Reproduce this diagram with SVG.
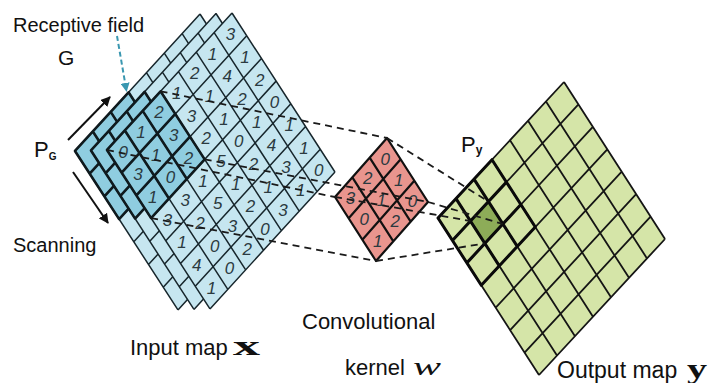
<svg xmlns="http://www.w3.org/2000/svg" xmlns:xlink="http://www.w3.org/1999/xlink" width="712" height="383" viewBox="0 0 712 383">
<style>
.cell{fill:#c6e6f0;stroke:none}
.rf{fill:#8fcde0;stroke:none}
.grid{fill:none;stroke:#17262c;stroke-width:1.5;stroke-linejoin:round}
.rfgrid{fill:none;stroke:#0f1a1e;stroke-width:2.6;stroke-linejoin:round}
.num{font-family:"Liberation Sans",Arial,sans-serif;font-style:italic;font-size:17px;fill:#2b3a40;text-anchor:middle}
.lbl{font-family:"Liberation Sans",Arial,sans-serif;fill:#111}
.dash{fill:none;stroke:#1a1a1a;stroke-width:1.8;stroke-dasharray:7 5}
.kcell{fill:#e9958e}
.kgrid{fill:none;stroke:#111;stroke-width:2.2;stroke-linejoin:round}
.ocell{fill:#d5e5a8}
.ogrid{fill:none;stroke:#151515;stroke-width:1.8;stroke-linejoin:round}
.orf{fill:none;stroke:#0a0a0a;stroke-width:3;stroke-linejoin:round}
</style>
<defs>
<marker id="ah" viewBox="0 0 10 10" refX="9" refY="5" markerWidth="5" markerHeight="5" orient="auto" markerUnits="strokeWidth">
<path d="M0,0L10,5L0,10z" fill="#111"/>
</marker>
<marker id="aht" viewBox="0 0 10 10" refX="9" refY="5" markerWidth="4.5" markerHeight="4.5" orient="auto" markerUnits="strokeWidth">
<path d="M0,0L10,5L0,10z" fill="#3a97b0"/>
</marker>
<g id="layer">
<polygon class="cell" points="232,13 334.97,171.97 209.95,308.96 106.98,149.99"/>
<polygon class="rf" points="160.56,91.28 204.69,159.41 151.11,218.12 106.98,149.99"/>
<path class="grid" d="M232,13L106.98,149.99M246.71,35.71L121.69,172.7M261.42,58.42L136.4,195.41M276.13,81.13L151.11,218.12M290.84,103.84L165.82,240.83M305.55,126.55L180.53,263.54M320.26,149.26L195.24,286.25M334.97,171.97L209.95,308.96M232,13L334.97,171.97M214.14,32.57L317.11,191.54M196.28,52.14L299.25,211.11M178.42,71.71L281.39,230.68M160.56,91.28L263.53,250.25M142.7,110.85L245.67,269.82M124.84,130.42L227.81,289.39M106.98,149.99L209.95,308.96"/>
<path class="rfgrid" d="M160.56,91.28L204.69,159.41L151.11,218.12L106.98,149.99ZM175.27,113.99L121.69,172.7M189.98,136.7L136.4,195.41M142.7,110.85L186.83,178.98M124.84,130.42L168.97,198.55"/>
</g>
</defs>

<g id="input-map">
<use xlink:href="#layer" href="#layer" transform="translate(-32,1)"/>
<use xlink:href="#layer" href="#layer" transform="translate(-16,0.5)"/>
<use xlink:href="#layer" href="#layer"/>
<g class="num">
<text x="230.4" y="40.1">3</text><text x="245.1" y="62.9">1</text><text x="259.8" y="85.6">2</text><text x="274.6" y="108.3">0</text><text x="289.3" y="131">1</text><text x="304" y="153.7">1</text><text x="318.7" y="176.4">0</text>
<text x="212.6" y="59.7">1</text><text x="227.3" y="82.4">4</text><text x="242" y="105.1">2</text><text x="256.7" y="127.8">1</text><text x="271.4" y="150.5">4</text><text x="286.1" y="173.3">3</text><text x="300.8" y="196">1</text>
<text x="194.7" y="79.3">2</text><text x="209.4" y="102">1</text><text x="224.1" y="124.7">1</text><text x="238.8" y="147.4">0</text><text x="253.5" y="170.1">2</text><text x="268.3" y="192.8">1</text><text x="283" y="215.6">3</text>
<text x="176.8" y="98.9">1</text><text x="191.5" y="121.6">3</text><text x="206.2" y="144.3">2</text><text x="221" y="167">5</text><text x="235.7" y="189.7">1</text><text x="250.4" y="212.4">2</text><text x="265.1" y="235.1">0</text>
<text x="159" y="118.4">2</text><text x="173.7" y="141.1">3</text><text x="188.4" y="163.8">2</text><text x="203.1" y="186.5">1</text><text x="217.8" y="209.2">5</text><text x="232.6" y="232">3</text><text x="247.3" y="254.7">2</text>
<text x="141.1" y="138">1</text><text x="155.8" y="160.7">1</text><text x="170.5" y="183.4">0</text><text x="185.2" y="206.1">3</text><text x="200" y="228.8">2</text><text x="214.7" y="251.6">0</text><text x="229.4" y="274.3">0</text>
<text x="123.3" y="157.6">0</text><text x="138" y="180.3">3</text><text x="152.7" y="203">1</text><text x="167.4" y="225.7">3</text><text x="182.1" y="248.4">1</text><text x="196.8" y="271.1">4</text><text x="211.6" y="293.8">1</text>
</g>
</g>

<g id="kernel">
<polygon class="kcell" points="387,138 428,202 376,261 335,197"/>
<path class="kgrid" d="M387,138L428,202L376,261L335,197ZM400.67,159.33L348.67,218.33M414.33,180.67L362.33,239.67M369.67,157.67L410.67,221.67M352.33,177.33L393.33,241.33"/>
<g class="num">
<text x="385.2" y="164.5">0</text><text x="398.8" y="185.8">1</text><text x="412.5" y="207.2">0</text>
<text x="367.8" y="184.2">2</text><text x="381.5" y="205.5">1</text><text x="395.2" y="226.8">2</text>
<text x="350.5" y="203.8">3</text><text x="364.2" y="225.2">0</text><text x="377.8" y="246.5">1</text>
</g>
</g>

<g id="output-map">
<polygon class="ocell" points="564,82 665,239 539,375 438,218"/>
<polygon fill="#8dac58" points="488.43,201.57 502.86,224 484.86,243.43 470.43,221"/>
<path class="ogrid" d="M564,82L438,218M578.43,104.43L452.43,240.43M592.86,126.86L466.86,262.86M607.29,149.29L481.29,285.29M621.71,171.71L495.71,307.71M636.14,194.14L510.14,330.14M650.57,216.57L524.57,352.57M665,239L539,375M564,82L665,239M546,101.43L647,258.43M528,120.86L629,277.86M510,140.29L611,297.29M492,159.71L593,316.71M474,179.14L575,336.14M456,198.57L557,355.57M438,218L539,375"/>
<path class="orf" d="M492,159.71L535.29,227L481.29,285.29L438,218ZM506.43,182.14L452.43,240.43M520.86,204.57L466.86,262.86M474,179.14L517.29,246.43M456,198.57L499.29,265.86"/>
</g>

<g id="connectors">
<path class="dash" d="M160.56,91.28L387,138"/>
<path class="dash" d="M204.69,159.41L428,202"/>
<path class="dash" d="M151.11,218.12L376,261"/>
<path class="dash" d="M106.98,149.99L335,197"/>
<path class="dash" d="M387,138L488.43,201.57"/>
<path class="dash" d="M428,202L502.86,224"/>
<path class="dash" d="M376,261L484.86,243.43"/>
<path class="dash" d="M335,197L470.43,221"/>
<path d="M117,36L126.5,91" fill="none" stroke="#3a97b0" stroke-width="2" stroke-dasharray="5 3" marker-end="url(#aht)"/>
<path d="M68,140L110,97" fill="none" stroke="#111" stroke-width="2" marker-end="url(#ah)"/>
<path d="M73,172L108,223" fill="none" stroke="#111" stroke-width="2" marker-end="url(#ah)"/>
</g>

<g id="labels" class="lbl">
<text x="13" y="32" font-size="20">Receptive field</text>
<text x="58" y="65" font-size="21">G</text>
<text x="34" y="157" font-size="22">P<tspan font-size="10" font-weight="bold" dy="3">G</tspan></text>
<text x="13" y="252" font-size="20">Scanning</text>
<text x="130" y="355" font-size="22">Input map</text>
<text x="233" y="355" font-size="28" font-family="'Liberation Serif',serif" font-weight="bold" textLength="27" lengthAdjust="spacingAndGlyphs">x</text>
<text x="302" y="329" font-size="22">Convolutional</text>
<text x="345" y="375" font-size="22">kernel</text>
<text x="413" y="375" font-size="26" font-family="'Liberation Serif',serif" font-style="italic" textLength="28" lengthAdjust="spacingAndGlyphs">w</text>
<text x="461" y="152" font-size="22">P<tspan font-size="12" font-weight="bold" dy="2">y</tspan></text>
<text x="557" y="378" font-size="23">Output map</text>
<text x="687" y="378" font-size="28" font-family="'Liberation Serif',serif" font-weight="bold" textLength="20" lengthAdjust="spacingAndGlyphs">y</text>
</g>
</svg>
